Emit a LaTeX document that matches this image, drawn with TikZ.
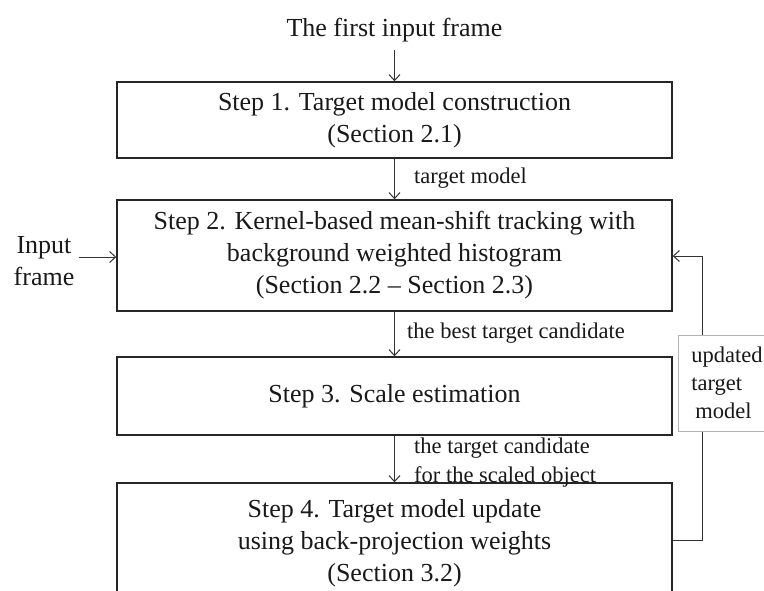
\documentclass[tikz,border=0pt]{standalone}
\usepackage{fontspec}
\setmainfont{Liberation Serif}
\usetikzlibrary{arrows.meta}
\begin{document}
\begin{tikzpicture}[x=1pt,y=-1pt,
  boxstyle/.style={draw=black!85,line width=1.4pt,minimum width=555pt,
    font=\fontsize{26}{32}\selectfont,align=center,text=black!90,inner sep=0pt},
  plain/.style={font=\fontsize{26}{32}\selectfont,align=center,text=black!90},
  lbl/.style={font=\fontsize{22.5}{29}\selectfont,align=left,anchor=west,
    inner sep=0pt,text=black!90},
  arr/.style={draw=black!80,line width=1pt,-{Straight Barb[length=6pt,width=11pt]}}]
\useasboundingbox (0,0) rectangle (764,590);
\clip (0,0) rectangle (764,590);

\node[plain,inner sep=8pt] (title) at (394.5,30) {The first input frame};

\node[boxstyle,minimum height=76pt] (b1) at (394.5,120)
  {Step 1. Target model construction\\(Section 2.1)};
\node[boxstyle,minimum height=111pt] (b2) at (394.5,255.5)
  {Step 2. Kernel-based mean-shift tracking with\\background weighted histogram\\(Section 2.2 -- Section 2.3)};
\node[boxstyle,minimum height=78pt] (b3) at (394.5,396)
  {Step 3. Scale estimation};
\node[boxstyle,minimum height=120pt] (b4) at (394.5,543)
  {Step 4. Target model update\\using back-projection weights\\(Section 3.2)};

\node[plain,inner sep=4pt] (inp) at (44,261.5) {Input\\frame};

\draw[arr] (title.south) -- (b1.north);
\draw[arr] (b1.south) -- (b2.north);
\draw[arr] (b2.south) -- (b3.north);
\draw[arr] (b3.south) -- (b4.north);
\draw[arr] (inp.east |- 0,257) -- (b2.west |- 0,257);

\node[lbl] (l1) at (414,178) {target model};
\node[lbl] (l2) at (407,333) {the best target candidate};
\node[lbl] (l3) at (414,462.5) {the target candidate\\for the scaled object};

\coordinate (c1) at (702,540);
\coordinate (c2) at (702,256);
\draw[arr] (b4.east |- c1) -- (c1) -- (c2) -- (b2.east |- c2);

\node[draw=black!30,fill=white,line width=0.8pt,inner xsep=13pt,inner ysep=0pt,
  minimum height=96pt,font=\fontsize{22.5}{28}\selectfont,align=left,text=black!90]
  (upd) at (727,383) {updated\\target\\\hspace{4pt}model};
\end{tikzpicture}
\end{document}
